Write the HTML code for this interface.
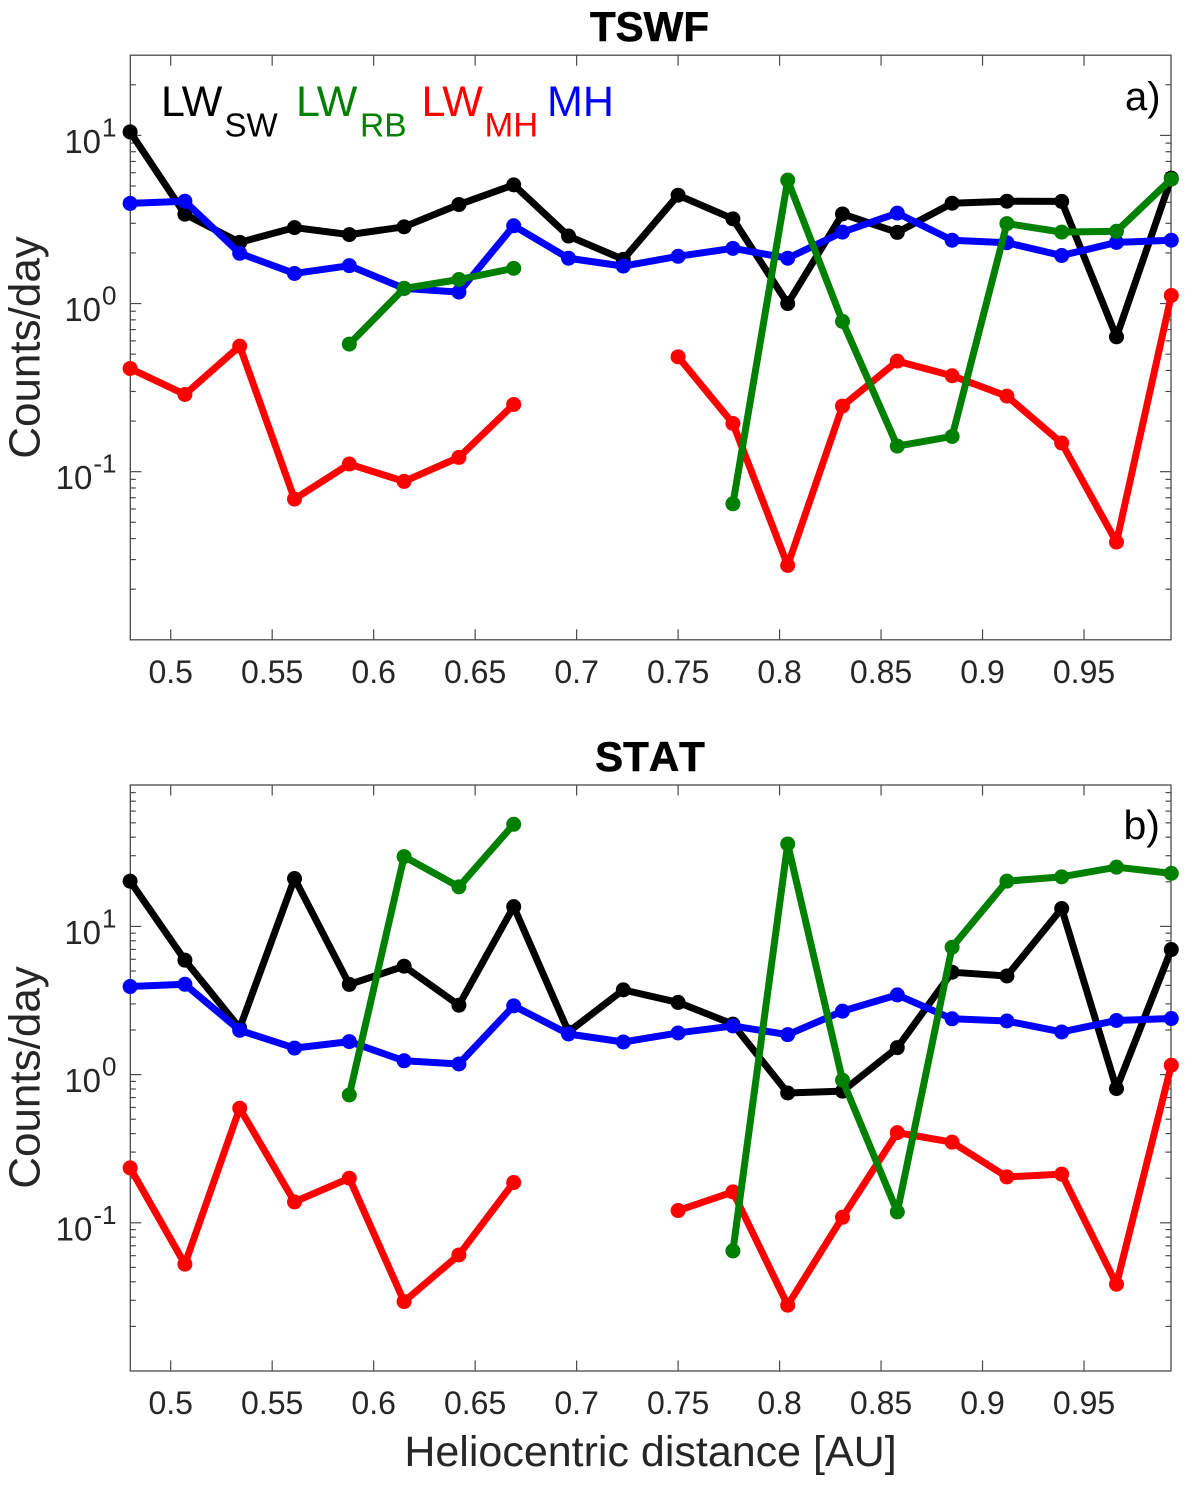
<!DOCTYPE html>
<html lang="en">
<head>
<meta charset="utf-8">
<title>TSWF and STAT counts per day versus heliocentric distance</title>
<style>
html,body{margin:0;padding:0;background:#fff;}
svg{display:block;font-family:"Liberation Sans",Arial,sans-serif;}
</style>
</head>
<body>
<svg id="figure" xmlns="http://www.w3.org/2000/svg" width="1200" height="1487" viewBox="0 0 1200 1487">
  <rect x="0" y="0" width="1200" height="1487" fill="#fff"/>
  <text x="649.5" y="41" text-anchor="middle" font-size="42" font-weight="bold" fill="#000" stroke="#000" stroke-width="0.6">TSWF</text>
  <text x="650" y="771" text-anchor="middle" font-size="42" font-weight="bold" fill="#000" stroke="#000" stroke-width="0.6" style="font-kerning:none">STAT</text>
  <text x="650.5" y="1466" text-anchor="middle" font-size="43" fill="#262626">Heliocentric distance [AU]</text>
  <text transform="translate(39.5 347.5) rotate(-90)" text-anchor="middle" font-size="44" fill="#262626">Counts/day</text>
  <text transform="translate(39.5 1077.5) rotate(-90)" text-anchor="middle" font-size="44" fill="#262626">Counts/day</text>
  <g id="tswf-panel"></g>
  <g id="stat-panel"></g>
  <g>
    <text x="161" y="116" font-size="43" fill="#000">LW</text>
    <text x="224.5" y="136.5" font-size="33" fill="#000">SW</text>
    <text x="296" y="116" font-size="43" fill="#008000">LW</text>
    <text x="360" y="136.5" font-size="33.5" fill="#008000">RB</text>
    <text x="421.5" y="116" font-size="43" fill="#ff0000">LW</text>
    <text x="484.5" y="136.5" font-size="34.5" fill="#ff0000">MH</text>
    <text x="547" y="116" font-size="43" fill="#0000ff">MH</text>
  </g>
  <text x="1125" y="110" font-size="40" fill="#000">a)</text>
  <text x="1123.5" y="839" font-size="41" fill="#000">b)</text>
</svg>
<script>
const distances = [0.48,0.507,0.534,0.561,0.588,0.615,0.642,0.669,0.696,0.723,0.75,0.777,0.804,0.831,0.858,0.885,0.912,0.939,0.966,0.993];
const xTickValues = [0.5,0.55,0.6,0.65,0.7,0.75,0.8,0.85,0.9,0.95];
const xTickLabels = ["0.5","0.55","0.6","0.65","0.7","0.75","0.8","0.85","0.9","0.95"];
const yTickExponents = [1,0,-1];
const yTickExponentLabels = ["1","0","-1"];

const tswfLwSw = [10.5,3.40,2.31,2.83,2.57,2.86,3.88,5.08,2.52,1.83,4.41,3.19,1.00,3.41,2.65,3.95,4.06,4.05,0.634,5.57];
const tswfMh = [3.94,4.06,1.99,1.51,1.68,1.23,1.17,2.90,1.86,1.67,1.91,2.13,1.86,2.66,3.45,2.38,2.30,1.93,2.31,2.38];
const tswfLwMh = [0.411,0.288,0.558,0.0687,0.111,0.0875,0.1216,0.251,null,null,0.482,0.1936,0.0277,0.2455,0.4545,0.372,0.2815,0.148,0.0381,1.117];
const tswfLwRb = [null,null,null,null,0.574,1.23,1.39,1.62,null,null,null,0.0644,5.42,0.783,0.142,0.162,2.99,2.66,2.69,5.49];

const statLwSw = [20.2,5.92,2.06,21.05,4.06,5.39,2.94,13.6,1.94,3.73,3.07,2.19,0.752,0.773,1.52,4.91,4.63,13.2,0.805,6.98];
const statMh = [3.93,4.07,1.99,1.51,1.67,1.24,1.18,2.91,1.88,1.66,1.91,2.13,1.86,2.68,3.45,2.38,2.30,1.94,2.32,2.39];
const statLwMh = [0.2347,0.0526,0.593,0.1384,0.2,0.0294,0.0607,0.187,null,null,0.121,0.1616,0.0278,0.109,0.406,0.35,0.204,0.213,0.0385,1.157];
const statLwRb = [null,null,null,null,0.729,29.6,18.5,48.9,null,null,null,0.0646,36.0,0.917,0.1184,7.24,20.2,21.6,25.1,22.8];

const SVG_NS = "http://www.w3.org/2000/svg";
const AXIS_LEFT = 130.3;
const AXIS_RIGHT = 1171;
const X_PER_UNIT = 2029.6;
const AXIS_COLOR = "#4a4a4a";
const TEXT_COLOR = "#262626";

function xScale(v) {
  return 170.7 + (v - 0.5) * X_PER_UNIT;
}

function makeYScale(top, bottom, yMax, yMin) {
  const span = Math.log10(yMax) - Math.log10(yMin);
  return function (v) {
    return bottom - (Math.log10(v) - Math.log10(yMin)) / span * (bottom - top);
  };
}

function make(tag, attrs, parent) {
  const el = document.createElementNS(SVG_NS, tag);
  Object.keys(attrs).forEach(function (k) { el.setAttribute(k, attrs[k]); });
  parent.appendChild(el);
  return el;
}

function drawTick(parent, x1, y1, x2, y2, name) {
  const t = make("line", {x1: x1, y1: y1, x2: x2, y2: y2, stroke: AXIS_COLOR, "stroke-width": 1.2}, parent);
  
  
}

function drawAxes(parent, top, bottom, yMax, yMin, yScale) {
  const box = make("rect", {x: AXIS_LEFT, y: top, width: AXIS_RIGHT - AXIS_LEFT, height: bottom - top, fill: "none", stroke: AXIS_COLOR, "stroke-width": 1.3}, parent);
  
  

  xTickValues.forEach(function (v, i) {
    const x = xScale(v);
    drawTick(parent, x, bottom, x, bottom - 10.5, 'x-tick');
    drawTick(parent, x, top, x, top + 10.5, 'x-tick-top');
    const label = make("text", {x: x, y: bottom + 43, "text-anchor": "middle", "font-size": 32, fill: TEXT_COLOR}, parent);
    
    
    label.textContent = xTickLabels[i];
  });

  for (let e = Math.floor(Math.log10(yMin)); e <= Math.ceil(Math.log10(yMax)); e++) {
    for (let m = 1; m <= 9; m++) {
      const v = m * Math.pow(10, e);
      if (v <= yMin * 1.0001 || v >= yMax * 0.9999) continue;
      const y = yScale(v);
      const len = m === 1 ? 11 : 5.5;
      drawTick(parent, AXIS_LEFT, y, AXIS_LEFT + len, y, m === 1 ? 'y-major-tick' : 'y-minor-tick');
      drawTick(parent, AXIS_RIGHT, y, AXIS_RIGHT - len, y, m === 1 ? 'y-major-tick-right' : 'y-minor-tick-right');
    }
  }

  yTickExponents.forEach(function (e, i) {
    const y = yScale(Math.pow(10, e));
    const label = make("text", {x: 116.5, y: y + 17.5, "text-anchor": "end", "font-size": 33, fill: TEXT_COLOR}, parent);
    
    
    const base = make("tspan", {}, label);
    base.textContent = "10";
    const exp = make("tspan", {dy: -16.5, dx: 1, "font-size": 26}, label);
    exp.textContent = yTickExponentLabels[i];
  });
}

function drawSeries(parent, values, color, name, yScale) {
  const group = make("g", {}, parent);
  
  
  let run = [];
  const flush = function () {
    if (run.length > 1) {
      const line = make("polyline", {points: run.join(" "), fill: "none", stroke: color, "stroke-width": 7, "stroke-linejoin": "round"}, group);
      
      
    }
    run = [];
  };
  values.forEach(function (v, i) {
    if (v === null) { flush(); return; }
    run.push(xScale(distances[i]).toFixed(2) + "," + yScale(v).toFixed(2));
  });
  flush();
  values.forEach(function (v, i) {
    if (v === null) return;
    const point = make("circle", {cx: xScale(distances[i]).toFixed(2), cy: yScale(v).toFixed(2), r: 7.5, fill: color}, group);
    
    
  });
}

function drawPanel(id, top, bottom, yMax, yMin, lwSw, mh, lwMh, lwRb) {
  const parent = document.getElementById(id);
  const yScale = makeYScale(top, bottom, yMax, yMin);
  drawAxes(parent, top, bottom, yMax, yMin, yScale);
  drawSeries(parent, lwSw, "#000000", "lw-sw-series", yScale);
  drawSeries(parent, mh, "#0000ff", "mh-series", yScale);
  drawSeries(parent, lwMh, "#ff0000", "lw-mh-series", yScale);
  drawSeries(parent, lwRb, "#008000", "lw-rb-series", yScale);
}

drawPanel("tswf-panel", 55.2, 639.8, 30, 0.01, tswfLwSw, tswfMh, tswfLwMh, tswfLwRb);
drawPanel("stat-panel", 785, 1371, 90, 0.01, statLwSw, statMh, statLwMh, statLwRb);
</script>
</body>
</html>
